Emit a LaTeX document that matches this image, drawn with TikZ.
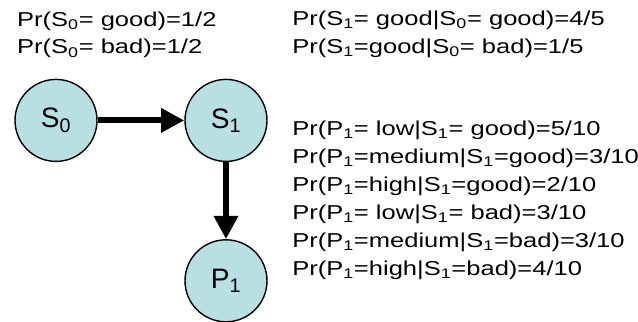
\documentclass[tikz,border=0pt]{standalone}
\usepackage{fontspec}
\setmainfont{Liberation Sans}
\newfontfamily\lblfont{Liberation Sans}[FakeStretch=1.27]
\usetikzlibrary{arrows.meta}
\definecolor{nodefill}{RGB}{184,224,227}
\tikzset{
  varnode/.style={circle, draw=black, line width=1pt, fill=nodefill, minimum size=2.05cm, inner sep=0pt, font=\fontsize{20}{24}\selectfont},
  probtext/.style={anchor=west, align=left, inner sep=0pt, font=\lblfont\fontsize{14.3}{19.9}\selectfont},
  bigarrow/.style={line width=4.3pt, -{Triangle[length=0.58cm,width=0.58cm]}}
}
\begin{document}
\begin{tikzpicture}
        \useasboundingbox (0,0) rectangle (15.95,8.05);
        \begin{scope}
            \node[varnode] (s0) at (1.40,5.04) {S\textsubscript{0}}; % state 0
            \node[varnode] (s1) at (5.65,5.04) {S\textsubscript{1}}; % state 1
            \node[varnode] (p1) at (5.65,1.03) {P\textsubscript{1}}; % observation

            \draw[bigarrow] (s0) -- (s1);
            \draw[bigarrow] (s1) -- (p1);

            \node[probtext] (prior) at (0.42,7.18) {Pr(S\textsubscript{0}= good)=1/2\\ Pr(S\textsubscript{0}= bad)=1/2};
            \node[probtext] (trans) at (7.30,7.18) {Pr(S\textsubscript{1}= good|S\textsubscript{0}= good)=4/5\\ Pr(S\textsubscript{1}=good|S\textsubscript{0}= bad)=1/5};
            \node[probtext] (emit) at (7.30,3.05) {Pr(P\textsubscript{1}= low|S\textsubscript{1}= good)=5/10\\ Pr(P\textsubscript{1}=medium|S\textsubscript{1}=good)=3/10\\ Pr(P\textsubscript{1}=high|S\textsubscript{1}=good)=2/10\\ Pr(P\textsubscript{1}= low|S\textsubscript{1}= bad)=3/10\\ Pr(P\textsubscript{1}=medium|S\textsubscript{1}=bad)=3/10\\ Pr(P\textsubscript{1}=high|S\textsubscript{1}=bad)=4/10};
        \end{scope}
\end{tikzpicture}
\end{document}
